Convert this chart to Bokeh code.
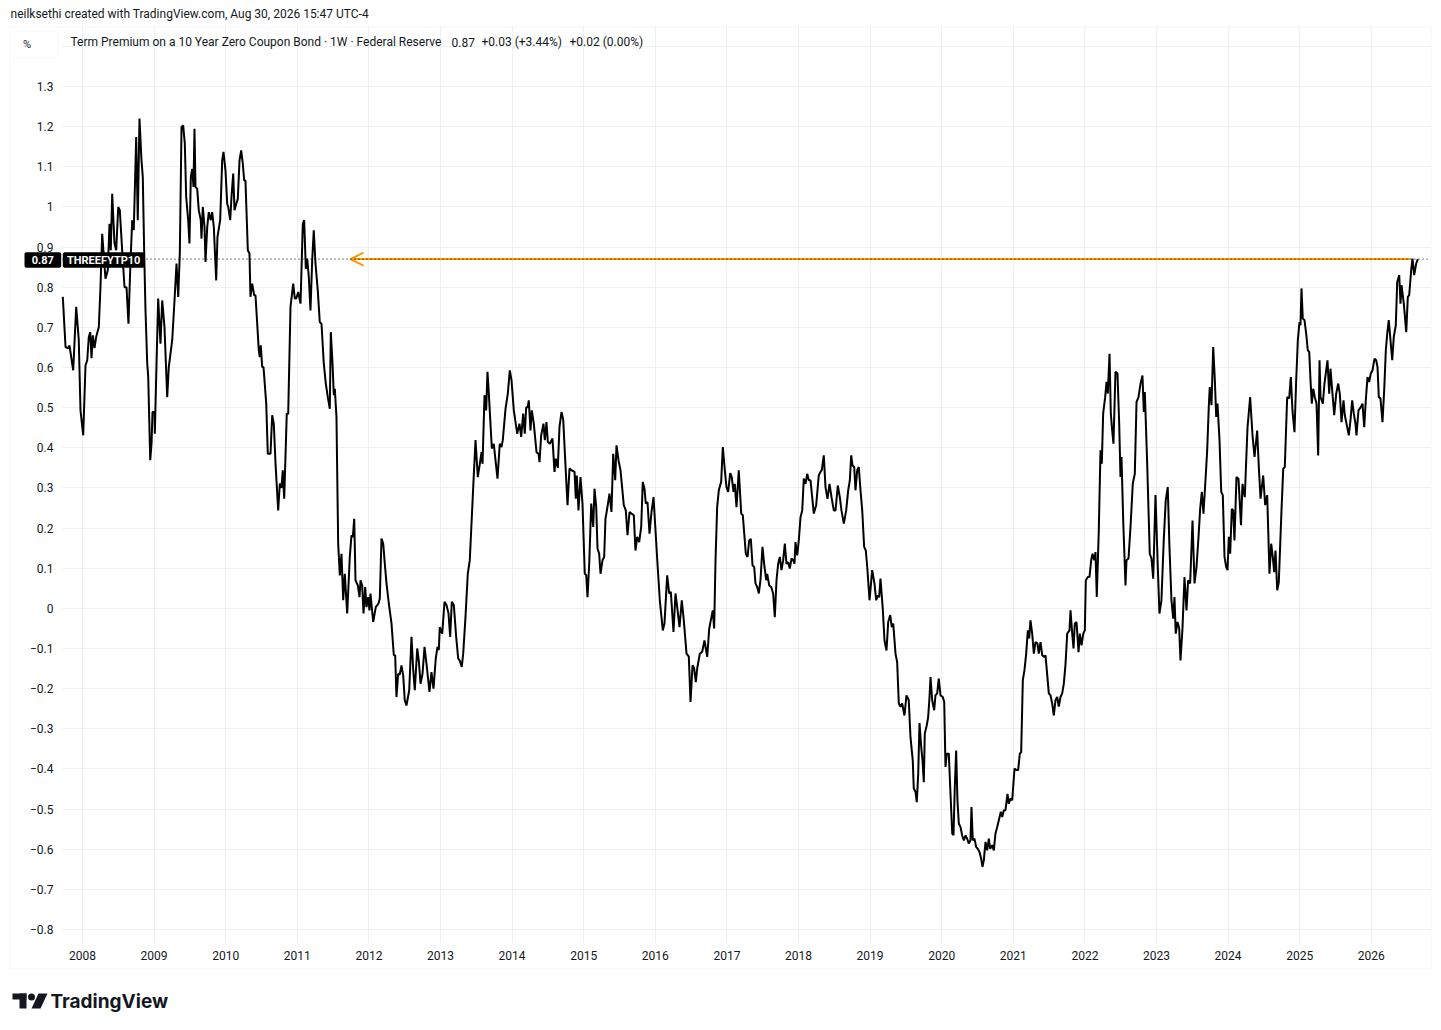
from bokeh.plotting import figure
from bokeh.models import (Range1d, FixedTicker, CustomJSTickFormatter, Label,
                          BoxAnnotation, PolyAnnotation, Arrow, OpenHead)
from bokeh.embed import file_html
from bokeh.resources import INLINE

# ---------------- texts ----------------
HEADER = "neilksethi created with TradingView.com, Aug 30, 2026 15:47 UTC-4"
LEGEND_TITLE = "Term Premium on a 10 Year Zero Coupon Bond \u00b7 1W \u00b7 Federal Reserve"
LEGEND_LAST = "0.87"
LEGEND_CHG = "+0.03 (+3.44%)"
LEGEND_CHG2 = "+0.02 (0.00%)"
SYMBOL = "THREEFYTP10"
UNIT = "%"
BRAND = "TradingView"

x_ticks = [2008, 2009, 2010, 2011, 2012, 2013, 2014, 2015, 2016, 2017,
           2018, 2019, 2020, 2021, 2022, 2023, 2024, 2025, 2026]
y_ticks = [-0.8, -0.7, -0.6, -0.5, -0.4, -0.3, -0.2, -0.1, 0.0, 0.1, 0.2, 0.3,
           0.4, 0.5, 0.6, 0.7, 0.8, 0.9, 1.0, 1.1, 1.2, 1.3, 1.4]

# horizontal ray drawn on the chart (start / end dates, decimal years)
ray_years = [2011.743, 2026.547]

# ---------------- weekly series (decimal year, % ) ----------------
yr_a = [2007.725, 2007.763, 2007.800, 2007.818, 2007.870, 2007.912, 2007.948, 2007.972, 2008.010, 2008.042,
        2008.066, 2008.088, 2008.108, 2008.126, 2008.144, 2008.168, 2008.191, 2008.228, 2008.251, 2008.275,
        2008.321, 2008.353, 2008.377, 2008.395, 2008.415, 2008.447, 2008.471, 2008.499, 2008.521, 2008.554,
        2008.587, 2008.615, 2008.642, 2008.666, 2008.694, 2008.716, 2008.750, 2008.772, 2008.796, 2008.824,
        2008.842, 2008.862, 2008.880, 2008.904, 2008.918, 2008.946, 2008.964, 2008.978, 2009.006, 2009.010,
        2009.034, 2009.057, 2009.089, 2009.113, 2009.145, 2009.183, 2009.205, 2009.253, 2009.285, 2009.313,
        2009.337, 2009.359, 2009.383, 2009.406, 2009.429, 2009.448, 2009.476, 2009.494, 2009.513, 2009.532,
        2009.550, 2009.564, 2009.578, 2009.602, 2009.624, 2009.652, 2009.662, 2009.680, 2009.704, 2009.718,
        2009.742, 2009.764, 2009.792, 2009.811, 2009.834, 2009.867, 2009.885, 2009.923, 2009.951, 2009.969,
        2009.997, 2010.021, 2010.035, 2010.063, 2010.081, 2010.105, 2010.123, 2010.147, 2010.169, 2010.193,
        2010.216, 2010.239, 2010.258, 2010.276, 2010.309, 2010.332, 2010.346, 2010.370, 2010.398, 2010.416,
        2010.440, 2010.462, 2010.476, 2010.490, 2010.510, 2010.528, 2010.566, 2010.588, 2010.626, 2010.649,
        2010.672, 2010.696, 2010.733, 2010.756, 2010.779, 2010.797, 2010.817, 2010.853, 2010.873, 2010.905,
        2010.943, 2010.965, 2010.985, 2011.013, 2011.045, 2011.077, 2011.096]
tp_a = [0.776, 0.651, 0.648, 0.655, 0.593, 0.751, 0.668, 0.493, 0.431, 0.605,
        0.618, 0.676, 0.688, 0.623, 0.680, 0.648, 0.676, 0.701, 0.800, 0.933,
        0.821, 0.842, 0.958, 0.892, 1.033, 0.909, 0.892, 1.000, 0.992, 0.892,
        0.800, 0.800, 0.709, 0.842, 0.967, 0.942, 1.174, 0.967, 1.220, 1.116,
        1.075, 0.884, 0.742, 0.610, 0.576, 0.369, 0.410, 0.489, 0.489, 0.435,
        0.610, 0.772, 0.659, 0.767, 0.701, 0.526, 0.601, 0.668, 0.767, 0.859,
        0.776, 0.884, 1.199, 1.203, 1.158, 1.025, 0.967, 0.909, 1.075, 1.095,
        1.050, 1.195, 1.050, 1.045, 0.992, 0.967, 0.921, 1.000, 0.950, 0.863,
        0.950, 0.987, 0.967, 0.987, 0.950, 0.817, 0.925, 0.967, 1.116, 1.137,
        1.091, 1.008, 1.000, 0.967, 1.025, 1.083, 0.992, 1.008, 1.020, 1.116,
        1.141, 1.108, 1.066, 1.066, 0.892, 0.884, 0.776, 0.809, 0.780, 0.780,
        0.709, 0.643, 0.626, 0.655, 0.601, 0.601, 0.510, 0.385, 0.385, 0.481,
        0.460, 0.360, 0.244, 0.311, 0.300, 0.344, 0.273, 0.485, 0.485, 0.751,
        0.809, 0.772, 0.772, 0.788, 0.759, 0.958, 0.967]

yr_b = [2011.119, 2011.138, 2011.161, 2011.184, 2011.208, 2011.230, 2011.254, 2011.286, 2011.314, 2011.338,
        2011.370, 2011.398, 2011.426, 2011.454, 2011.468, 2011.492, 2011.510, 2011.524, 2011.547, 2011.571,
        2011.594, 2011.617, 2011.641, 2011.663, 2011.697, 2011.733, 2011.757, 2011.775, 2011.795, 2011.813,
        2011.845, 2011.869, 2011.883, 2011.906, 2011.925, 2011.948, 2011.966, 2011.990, 2012.008, 2012.022,
        2012.060, 2012.096, 2012.134, 2012.152, 2012.176, 2012.200, 2012.222, 2012.246, 2012.278, 2012.316,
        2012.348, 2012.367, 2012.385, 2012.409, 2012.431, 2012.455, 2012.479, 2012.501, 2012.525, 2012.563,
        2012.595, 2012.619, 2012.641, 2012.675, 2012.697, 2012.721, 2012.749, 2012.777, 2012.804, 2012.846,
        2012.874, 2012.902, 2012.934, 2012.958, 2012.976, 2012.990, 2013.024, 2013.056, 2013.084, 2013.112,
        2013.135, 2013.158, 2013.186, 2013.219, 2013.247, 2013.269, 2013.297, 2013.317, 2013.349, 2013.381,
        2013.409]
tp_b = [0.846, 0.871, 0.825, 0.742, 0.867, 0.942, 0.859, 0.792, 0.713, 0.709,
        0.610, 0.560, 0.526, 0.497, 0.688, 0.610, 0.531, 0.547, 0.477, 0.161,
        0.082, 0.136, 0.020, 0.086, -0.013, 0.128, 0.182, 0.177, 0.223, 0.070,
        0.057, 0.028, 0.070, 0.057, -0.013, 0.053, 0.003, 0.028, -0.005, 0.037,
        -0.034, 0.003, 0.012, 0.024, 0.174, 0.161, 0.111, 0.062, 0.012, -0.038,
        -0.117, -0.117, -0.221, -0.163, -0.165, -0.142, -0.167, -0.229, -0.242, -0.204,
        -0.071, -0.154, -0.204, -0.100, -0.130, -0.188, -0.163, -0.096, -0.138, -0.208,
        -0.159, -0.200, -0.125, -0.096, -0.104, -0.047, -0.063, 0.016, 0.008, -0.013,
        -0.071, 0.016, 0.008, -0.071, -0.125, -0.130, -0.146, -0.113, -0.022, 0.086,
        0.120]

yr_c = [2013.457, 2013.489, 2013.521, 2013.549, 2013.573, 2013.587, 2013.615, 2013.638, 2013.656, 2013.675,
        2013.717, 2013.744, 2013.768, 2013.796, 2013.828, 2013.852, 2013.870, 2013.908, 2013.940, 2013.968,
        2013.992, 2014.024, 2014.071, 2014.103, 2014.127, 2014.155, 2014.177, 2014.197, 2014.219, 2014.233,
        2014.257, 2014.275, 2014.303, 2014.341, 2014.369, 2014.383, 2014.406, 2014.438, 2014.457, 2014.480,
        2014.499, 2014.527, 2014.564, 2014.592, 2014.610, 2014.638, 2014.662, 2014.690, 2014.714, 2014.742,
        2014.774, 2014.802, 2014.830, 2014.872, 2014.890, 2014.904, 2014.927, 2014.955, 2014.983, 2015.015,
        2015.035, 2015.053, 2015.077, 2015.105, 2015.133, 2015.151, 2015.175, 2015.193, 2015.216, 2015.235,
        2015.263, 2015.286, 2015.304, 2015.328, 2015.360, 2015.388, 2015.412, 2015.440, 2015.458, 2015.486,
        2015.514, 2015.560, 2015.588, 2015.612, 2015.640, 2015.668, 2015.700, 2015.723, 2015.747, 2015.775,
        2015.803, 2015.825, 2015.849, 2015.867, 2015.891, 2015.919, 2015.947, 2015.975, 2016.003, 2016.026,
        2016.063, 2016.105, 2016.128, 2016.166, 2016.194, 2016.217, 2016.254, 2016.282, 2016.306, 2016.338,
        2016.370, 2016.398, 2016.436, 2016.468, 2016.492, 2016.520, 2016.543, 2016.566, 2016.585, 2016.622,
        2016.655, 2016.687, 2016.725, 2016.753, 2016.775, 2016.803, 2016.822, 2016.841, 2016.864, 2016.887]
tp_c = [0.302, 0.419, 0.327, 0.360, 0.389, 0.360, 0.531, 0.493, 0.589, 0.535,
        0.398, 0.410, 0.369, 0.323, 0.410, 0.402, 0.419, 0.497, 0.535, 0.593,
        0.568, 0.493, 0.435, 0.460, 0.427, 0.485, 0.435, 0.501, 0.501, 0.518,
        0.443, 0.493, 0.460, 0.389, 0.385, 0.364, 0.431, 0.460, 0.419, 0.464,
        0.415, 0.410, 0.423, 0.340, 0.373, 0.350, 0.452, 0.489, 0.470, 0.369,
        0.257, 0.348, 0.344, 0.340, 0.273, 0.331, 0.244, 0.327, 0.261, 0.086,
        0.083, 0.028, 0.111, 0.261, 0.203, 0.298, 0.252, 0.149, 0.136, 0.086,
        0.120, 0.128, 0.223, 0.248, 0.286, 0.240, 0.385, 0.319, 0.406, 0.369,
        0.344, 0.257, 0.244, 0.182, 0.240, 0.236, 0.232, 0.144, 0.178, 0.165,
        0.203, 0.315, 0.298, 0.261, 0.265, 0.186, 0.240, 0.277, 0.194, 0.124,
        0.020, -0.055, -0.038, 0.082, 0.037, 0.041, -0.059, 0.037, 0.003, -0.047,
        0.020, -0.030, -0.113, -0.120, -0.233, -0.142, -0.150, -0.184, -0.150, -0.113,
        -0.108, -0.080, -0.121, -0.051, -0.030, -0.005, -0.050, 0.120, 0.252, 0.294]

yr_d = [2016.920, 2016.943, 2016.971, 2016.994, 2017.018, 2017.046, 2017.068, 2017.092, 2017.110, 2017.134,
        2017.166, 2017.200, 2017.222, 2017.246, 2017.264, 2017.288, 2017.311, 2017.334, 2017.358, 2017.381,
        2017.399, 2017.423, 2017.446, 2017.469, 2017.497, 2017.525, 2017.549, 2017.563, 2017.591, 2017.619,
        2017.646, 2017.669, 2017.693, 2017.716, 2017.739, 2017.762, 2017.786, 2017.809, 2017.832, 2017.856,
        2017.878, 2017.902, 2017.926, 2017.944, 2017.958, 2017.982, 2018.004, 2018.028, 2018.052, 2018.074,
        2018.098, 2018.122, 2018.144, 2018.168, 2018.191, 2018.214, 2018.247, 2018.283, 2018.307, 2018.325,
        2018.353, 2018.377, 2018.405, 2018.433, 2018.461, 2018.493, 2018.517, 2018.549, 2018.577, 2018.600,
        2018.633, 2018.666, 2018.694, 2018.717, 2018.736, 2018.754, 2018.778, 2018.796, 2018.820, 2018.842,
        2018.866, 2018.890, 2018.917, 2018.940]
tp_d = [0.315, 0.402, 0.344, 0.302, 0.290, 0.337, 0.327, 0.290, 0.310, 0.252,
        0.344, 0.236, 0.232, 0.178, 0.136, 0.128, 0.169, 0.173, 0.107, 0.103,
        0.062, 0.053, 0.037, 0.070, 0.153, 0.103, 0.070, 0.086, 0.057, 0.053,
        0.037, -0.022, 0.070, 0.111, 0.128, 0.095, 0.120, 0.161, 0.111, 0.115,
        0.099, 0.124, 0.120, 0.111, 0.165, 0.132, 0.169, 0.227, 0.244, 0.323,
        0.310, 0.335, 0.319, 0.319, 0.277, 0.236, 0.257, 0.331, 0.340, 0.344,
        0.381, 0.302, 0.273, 0.310, 0.277, 0.244, 0.244, 0.306, 0.277, 0.244,
        0.211, 0.244, 0.294, 0.319, 0.381, 0.356, 0.352, 0.294, 0.344, 0.352,
        0.294, 0.244, 0.153, 0.144]

yr_e = [2018.960, 2018.992, 2019.029, 2019.061, 2019.085, 2019.108, 2019.127, 2019.145, 2019.177, 2019.201,
        2019.229, 2019.253, 2019.281, 2019.303, 2019.323, 2019.355, 2019.378, 2019.401, 2019.425, 2019.448,
        2019.480, 2019.508, 2019.540, 2019.564, 2019.596, 2019.610, 2019.634, 2019.652, 2019.672, 2019.690,
        2019.714, 2019.732, 2019.750, 2019.764, 2019.792, 2019.811, 2019.830, 2019.844, 2019.867, 2019.895,
        2019.913, 2019.937, 2019.959, 2019.983, 2020.015, 2020.035, 2020.053, 2020.071, 2020.099, 2020.123,
        2020.147, 2020.165, 2020.183, 2020.202, 2020.220, 2020.239, 2020.263, 2020.286, 2020.309, 2020.332,
        2020.356, 2020.378, 2020.402, 2020.416, 2020.434, 2020.458, 2020.482, 2020.504, 2020.528, 2020.552,
        2020.570, 2020.588, 2020.612, 2020.635, 2020.658, 2020.677, 2020.705, 2020.728, 2020.751, 2020.775,
        2020.798, 2020.826, 2020.845, 2020.868, 2020.891, 2020.919, 2020.937, 2020.961, 2020.985, 2021.017,
        2021.040, 2021.068, 2021.091, 2021.110, 2021.133, 2021.156, 2021.180, 2021.203, 2021.222, 2021.240,
        2021.264, 2021.287, 2021.310, 2021.338, 2021.356, 2021.380, 2021.404, 2021.432, 2021.450, 2021.468,
        2021.496, 2021.520, 2021.543, 2021.566, 2021.589, 2021.613, 2021.635, 2021.659, 2021.683, 2021.705]
tp_e = [0.103, 0.020, 0.095, 0.062, 0.020, 0.032, 0.028, 0.074, -0.001, -0.080,
        -0.105, -0.034, -0.017, -0.047, -0.038, -0.113, -0.134, -0.237, -0.245, -0.237,
        -0.267, -0.217, -0.229, -0.321, -0.379, -0.449, -0.457, -0.483, -0.412, -0.286,
        -0.346, -0.379, -0.433, -0.312, -0.291, -0.271, -0.221, -0.171, -0.229, -0.254,
        -0.217, -0.212, -0.175, -0.217, -0.221, -0.233, -0.395, -0.362, -0.362, -0.462,
        -0.561, -0.565, -0.445, -0.354, -0.478, -0.536, -0.545, -0.566, -0.578, -0.566,
        -0.574, -0.586, -0.578, -0.495, -0.578, -0.574, -0.595, -0.599, -0.607, -0.624,
        -0.644, -0.628, -0.582, -0.603, -0.574, -0.599, -0.590, -0.603, -0.561, -0.545,
        -0.528, -0.507, -0.520, -0.503, -0.503, -0.462, -0.487, -0.474, -0.478, -0.399,
        -0.403, -0.403, -0.362, -0.358, -0.179, -0.154, -0.113, -0.055, -0.075, -0.030,
        -0.063, -0.113, -0.084, -0.088, -0.113, -0.084, -0.117, -0.121, -0.117, -0.154,
        -0.212, -0.217, -0.237, -0.267, -0.229, -0.221, -0.245, -0.221, -0.212, -0.188]

yr_f = [2021.729, 2021.753, 2021.785, 2021.799, 2021.823, 2021.841, 2021.859, 2021.883, 2021.911, 2021.929,
        2021.953, 2021.977, 2021.999, 2022.013, 2022.041, 2022.064, 2022.088, 2022.106, 2022.130, 2022.148,
        2022.166, 2022.194, 2022.218, 2022.236, 2022.255, 2022.283, 2022.302, 2022.320, 2022.344, 2022.362,
        2022.381, 2022.399, 2022.427, 2022.455, 2022.479, 2022.497, 2022.511, 2022.535, 2022.567, 2022.581,
        2022.609, 2022.637, 2022.669, 2022.697, 2022.721, 2022.749, 2022.777, 2022.804, 2022.823, 2022.837,
        2022.870, 2022.906, 2022.930, 2022.954, 2022.986, 2023.018, 2023.041, 2023.069, 2023.101, 2023.129,
        2023.157, 2023.181, 2023.209, 2023.233, 2023.251, 2023.269, 2023.293, 2023.317, 2023.335, 2023.363,
        2023.391, 2023.419, 2023.442, 2023.470, 2023.503, 2023.531, 2023.559, 2023.587, 2023.610, 2023.633,
        2023.656, 2023.684, 2023.708, 2023.730, 2023.744, 2023.768, 2023.792, 2023.814, 2023.834, 2023.852,
        2023.880, 2023.904, 2023.926, 2023.950, 2023.973, 2023.992, 2024.010, 2024.029, 2024.052, 2024.071,
        2024.089, 2024.117, 2024.145, 2024.180]
tp_f = [-0.140, -0.063, -0.055, -0.005, -0.063, -0.100, -0.038, -0.034, -0.109, -0.063,
        -0.092, -0.063, -0.055, 0.070, 0.078, 0.078, 0.120, 0.136, 0.120, 0.140,
        0.028, 0.194, 0.394, 0.360, 0.485, 0.526, 0.564, 0.535, 0.634, 0.485,
        0.443, 0.410, 0.589, 0.585, 0.460, 0.327, 0.377, 0.219, 0.057, 0.120,
        0.124, 0.203, 0.311, 0.335, 0.514, 0.526, 0.560, 0.580, 0.489, 0.539,
        0.360, 0.136, 0.124, 0.074, 0.282, 0.103, -0.013, 0.020, 0.169, 0.269,
        0.302, 0.153, 0.020, -0.026, 0.028, -0.063, -0.034, -0.050, -0.130, -0.050,
        0.078, -0.005, 0.070, 0.062, 0.219, 0.062, 0.103, 0.178, 0.248, 0.290,
        0.236, 0.319, 0.394, 0.501, 0.551, 0.506, 0.651, 0.572, 0.477, 0.510,
        0.419, 0.290, 0.282, 0.128, 0.103, 0.095, 0.178, 0.136, 0.248, 0.244,
        0.169, 0.327, 0.323, 0.207]

yr_g = [2024.201, 2024.233, 2024.271, 2024.308, 2024.341, 2024.369, 2024.406, 2024.429, 2024.453, 2024.490,
        2024.518, 2024.546, 2024.578, 2024.602, 2024.624, 2024.644, 2024.662, 2024.686, 2024.708, 2024.742,
        2024.770, 2024.792, 2024.825, 2024.853, 2024.876, 2024.899, 2024.927, 2024.951, 2024.974, 2024.997,
        2025.011, 2025.025, 2025.043, 2025.067, 2025.091, 2025.113, 2025.133, 2025.151, 2025.169, 2025.189,
        2025.211, 2025.235, 2025.258, 2025.277, 2025.291, 2025.323, 2025.346, 2025.364, 2025.388, 2025.412,
        2025.430, 2025.454, 2025.482, 2025.510, 2025.538, 2025.560, 2025.584, 2025.612, 2025.630, 2025.654,
        2025.686, 2025.709, 2025.733, 2025.756, 2025.779, 2025.793, 2025.821, 2025.849, 2025.877, 2025.901,
        2025.923, 2025.947, 2025.970, 2025.993, 2026.017, 2026.045, 2026.068, 2026.087, 2026.105, 2026.128,
        2026.156, 2026.180, 2026.203, 2026.222, 2026.244, 2026.268, 2026.292, 2026.314, 2026.342, 2026.362,
        2026.390, 2026.408, 2026.422, 2026.454, 2026.488, 2026.510, 2026.529, 2026.557, 2026.575, 2026.599,
        2026.627, 2026.650]
tp_g = [0.310, 0.277, 0.450, 0.526, 0.431, 0.377, 0.443, 0.352, 0.273, 0.331,
        0.257, 0.282, 0.086, 0.161, 0.128, 0.090, 0.144, 0.045, 0.065, 0.227,
        0.348, 0.352, 0.526, 0.523, 0.576, 0.493, 0.439, 0.568, 0.668, 0.713,
        0.705, 0.797, 0.722, 0.718, 0.684, 0.643, 0.639, 0.568, 0.510, 0.547,
        0.526, 0.510, 0.381, 0.618, 0.526, 0.510, 0.560, 0.585, 0.618, 0.535,
        0.597, 0.543, 0.481, 0.535, 0.560, 0.535, 0.464, 0.518, 0.481, 0.460,
        0.431, 0.468, 0.518, 0.485, 0.460, 0.431, 0.493, 0.500, 0.510, 0.451,
        0.518, 0.576, 0.564, 0.585, 0.593, 0.622, 0.618, 0.601, 0.526, 0.523,
        0.464, 0.543, 0.643, 0.684, 0.718, 0.668, 0.618, 0.676, 0.705, 0.813,
        0.830, 0.759, 0.805, 0.759, 0.688, 0.776, 0.780, 0.842, 0.871, 0.830,
        0.859, 0.870]

years, tp = [], []
for ys, vs in [(yr_a, tp_a), (yr_b, tp_b), (yr_c, tp_c), (yr_d, tp_d),
               (yr_e, tp_e), (yr_f, tp_f), (yr_g, tp_g)]:
    n = min(len(ys), len(vs))
    years += ys[:n]
    tp += vs[:n]
last = tp[-1]

# ---------------- figure ----------------
# The frame covers the whole canvas; the price pane is x 62..1430, y 27..942 px.
TXT = "#131722"
FONT = "Roboto"
W, H = 1440, 1028
PX_PER_YEAR = 71.6
PX_PER_UNIT = 401.4
X0, Y0 = 2007.7207, 1.447          # data value at pixel x=62 / y=27
x_lo = X0 - 62 / PX_PER_YEAR
x_hi = X0 + (W - 62) / PX_PER_YEAR
y_hi = Y0 + 27 / PX_PER_UNIT
y_lo = Y0 - (H - 27) / PX_PER_UNIT
pane_right = X0 + (1430 - 62) / PX_PER_YEAR

p = figure(width=W, height=H, output_backend="svg", toolbar_location=None,
           x_range=Range1d(x_lo, x_hi), y_range=Range1d(y_lo, y_hi),
           min_border_left=0, min_border_right=0, min_border_top=0, min_border_bottom=0,
           background_fill_color="white", border_fill_color="white", outline_line_color=None)

p.xaxis.ticker = FixedTicker(ticks=x_ticks)
p.xaxis.formatter = CustomJSTickFormatter(code="return String(Math.round(tick));")
p.yaxis.ticker = FixedTicker(ticks=y_ticks)
p.yaxis.formatter = CustomJSTickFormatter(code="""
    const v = Math.round(tick * 10) / 10;
    if (v > 1.35) return "";
    if (Math.abs(v) < 1e-9) return "0";
    return v < 0 ? "\u2212" + String(-v) : String(v);
""")
for ax in (p.xaxis[0], p.yaxis[0]):
    ax.axis_line_color = None
    ax.major_tick_line_color = None
    ax.minor_tick_line_color = None
    ax.major_tick_out = 0
    ax.major_tick_in = 0
    ax.major_label_text_font = FONT
    ax.major_label_text_font_size = "12px"
    ax.major_label_text_color = TXT
p.yaxis.major_label_standoff = -53
p.xaxis.major_label_standoff = -78

p.xgrid.grid_line_color = "#eef0f3"
p.ygrid.grid_line_color = "#eef0f3"

def cbox(l, r, t, b, **kw):
    return BoxAnnotation(left=l, right=r, top=t, bottom=b,
                         left_units="canvas", right_units="canvas",
                         top_units="canvas", bottom_units="canvas", **kw)

def clabel(x, y, text, **kw):
    opts = dict(text_font=FONT, text_font_size="12px", text_color=TXT,
                text_baseline="middle", text_align="left")
    opts.update(kw)
    return Label(x=x, y=y, x_units="canvas", y_units="canvas", text=text, **opts)

# orange ray with open arrow head at its left end
p.add_layout(Arrow(end=OpenHead(size=13, line_color="#ff9800", line_width=2),
                   x_start=ray_years[1], y_start=last, x_end=ray_years[0], y_end=last,
                   line_color="#ff9800", line_width=2, level="underlay"))

# white masks: keep grid lines inside the price pane only
MASK = dict(fill_color="white", fill_alpha=1, line_color=None, level="underlay")
p.add_layout(cbox(-20, 61.5, -20, H + 20, **MASK))
p.add_layout(cbox(1430.5, W + 20, -20, H + 20, **MASK))
p.add_layout(cbox(-20, W + 20, -20, 26.5, **MASK))
p.add_layout(cbox(-20, W + 20, 942.5, H + 20, **MASK))

# series line
p.line(years, tp, line_color="#000000", line_width=2)

# dotted last-value line across the price pane
p.segment(x0=[X0], x1=[pane_right], y0=[last], y1=[last],
          line_color="#000000", line_dash="1 3", line_width=1)

# outer chart border
p.add_layout(cbox(9.5, 1430.5, 26.5, 968.5, fill_alpha=0, line_color="#e0e3eb", line_width=1))

# last value / symbol badges
p.add_layout(cbox(24, 60.7, 251.7, 267.3, fill_color="#000000", fill_alpha=1,
                  line_color=None, border_radius=2))
p.add_layout(cbox(62.3, 144, 251.7, 267.3, fill_color="#000000", fill_alpha=1,
                  line_color=None, border_radius=2))
p.add_layout(clabel(42.3, 259.5, LEGEND_LAST, text_color="white", text_font_style="bold",
                    text_font_size="11px", text_align="center"))
p.add_layout(clabel(103.2, 259.5, SYMBOL, text_color="white", text_font_style="bold",
                    text_font_size="11px", text_align="center"))

# header
p.add_layout(clabel(10, 13.5, HEADER))

# unit button + legend
p.add_layout(cbox(14, 58, 31, 57, fill_color="white", fill_alpha=1,
                  line_color="#e0e3eb", line_width=1, border_radius=4))
p.add_layout(clabel(22.5, 44, UNIT, text_font_size="11px"))
p.add_layout(clabel(70, 41.5, LEGEND_TITLE))
p.add_layout(clabel(451, 41.5, LEGEND_LAST))
p.add_layout(clabel(481, 41.5, LEGEND_CHG))
p.add_layout(clabel(569, 41.5, LEGEND_CHG2))

# TradingView logo
p.add_layout(cbox(12, 26, 993, 999, fill_color=TXT, fill_alpha=1, line_color=None))
p.add_layout(cbox(19, 26, 993, 1008, fill_color=TXT, fill_alpha=1, line_color=None))
p.add_layout(cbox(27.5, 34.5, 993, 1000, fill_color=TXT, fill_alpha=1, line_color=None,
                  border_radius=4))
p.add_layout(PolyAnnotation(xs=[38, 47, 40, 31], ys=[993, 993, 1008, 1008],
                            xs_units="canvas", ys_units="canvas",
                            fill_color=TXT, fill_alpha=1, line_color=None))
p.add_layout(clabel(50, 1000.5, BRAND, text_font="Inter", text_font_style="bold",
                    text_font_size="19px"))

open("out.html", "w").write(file_html(p, INLINE))
